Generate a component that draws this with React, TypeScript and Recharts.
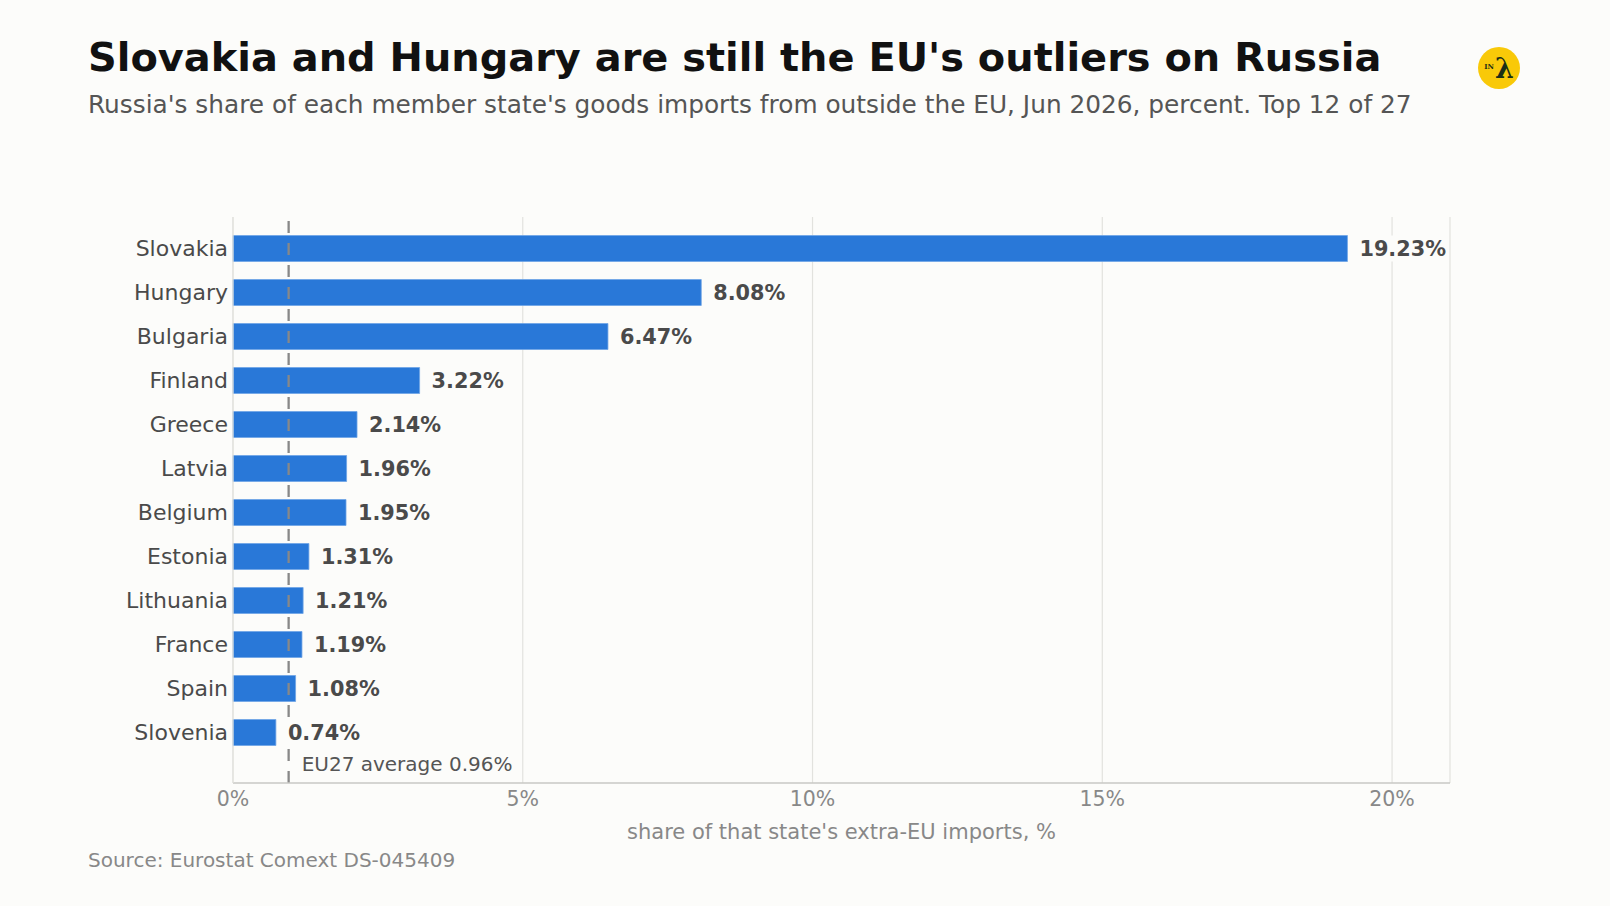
import React from 'react';
import { BarChart, Bar, XAxis, YAxis, CartesianGrid, ReferenceLine, LabelList } from 'recharts';

const countries = ['Slovakia', 'Hungary', 'Bulgaria', 'Finland', 'Greece', 'Latvia', 'Belgium', 'Estonia', 'Lithuania', 'France', 'Spain', 'Slovenia'];
const shares = [19.23, 8.08, 6.47, 3.22, 2.14, 1.96, 1.95, 1.31, 1.21, 1.19, 1.08, 0.74];
const xTicks = [0, 5, 10, 15, 20];
const euAverage = 0.96;

const BG = '#fcfcfa';
const FONT = '"DejaVu Sans", sans-serif';

const data = countries.map((name, i) => ({ name, value: shares[i] }));

// value label with a small background box so the grid line is hidden behind it
const ValueLabel = (props: any) => {
  const { x, y, width, height, value } = props;
  const text = `${Number(value).toFixed(2)}%`;
  const tx = x + width + 12;
  const cy = y + height / 2;
  const w = text.length * 13.6 + 6;
  return (
    <g>
      <rect x={tx - 3} y={cy - 13} width={w} height={26} fill={BG} />
      <text x={tx} y={cy} dy={7.6} fontSize={20.8} fontWeight="bold" fill="#4a4a4a" fontFamily={FONT}>
        {text}
      </text>
    </g>
  );
};

const AverageLabel = (props: any) => {
  const { viewBox } = props;
  return (
    <text x={viewBox.x + 13} y={viewBox.y + viewBox.height - 12} fontSize={20} fill="#555" fontFamily={FONT}>
      {`EU27 average ${euAverage.toFixed(2)}%`}
    </text>
  );
};

export default function App() {
  return (
    <div style={{ position: 'absolute', left: 0, top: 0, width: 1610, height: 906, background: BG, fontFamily: FONT, overflow: 'hidden' }}>
      <div style={{ position: 'absolute', left: 88, top: 38, fontSize: 39.9, lineHeight: '39.9px', fontWeight: 'bold', color: '#111', whiteSpace: 'nowrap' }}>
        Slovakia and Hungary are still the EU's outliers on Russia
      </div>
      <div style={{ position: 'absolute', left: 88, top: 93, fontSize: 24.8, lineHeight: '24.8px', color: '#555', whiteSpace: 'nowrap' }}>
        Russia's share of each member state's goods imports from outside the EU, Jun 2026, percent. Top 12 of 27
      </div>
      <div style={{ position: 'absolute', left: 1478, top: 47, width: 42, height: 42, borderRadius: '50%', background: '#f9c908', display: 'flex', alignItems: 'center', justifyContent: 'center', fontFamily: '"DejaVu Serif", serif', color: '#1b2e16', fontWeight: 'bold' }}>
        <span style={{ fontSize: 7, marginRight: 1, marginTop: -4 }}>IN</span>
        <span style={{ fontSize: 27, lineHeight: '27px' }}>λ</span>
      </div>

      <div style={{ position: 'absolute', left: 0, top: 0 }}>
        <BarChart
          width={1610}
          height={906}
          data={data}
          layout="vertical"
          margin={{ top: 217, right: 160, bottom: 63, left: 0 }}
        >
          <CartesianGrid horizontal={false} stroke="#e2e2de" strokeWidth={1.2} />
          <XAxis
            type="number"
            domain={[0, 21]}
            ticks={xTicks}
            tickFormatter={(v) => `${v}%`}
            axisLine={{ stroke: '#c8c8c4', strokeWidth: 1.4 }}
            tickLine={false}
            tick={{ fill: '#888', fontSize: 20.5, fontFamily: FONT }}
            height={60}
            label={{ value: "share of that state's extra-EU imports, %", position: 'insideBottom', offset: 4, fill: '#888', fontSize: 21, fontFamily: FONT }}
          />
          <YAxis
            type="category"
            dataKey="name"
            width={233}
            axisLine={{ stroke: '#e2e2de', strokeWidth: 1.2 }}
            tickLine={false}
            tickMargin={-1}
            padding={{ top: 9.5, bottom: 28.5 }}
            tick={{ fill: '#4a4a4a', fontSize: 22, fontFamily: FONT }}
          />
          <Bar dataKey="value" fill="#2978d8" stroke="#6fa5e6" strokeWidth={0.8} barSize={26} isAnimationActive={false}>
            <LabelList dataKey="value" content={ValueLabel} />
          </Bar>
          <ReferenceLine x={euAverage} stroke="#888" strokeWidth={2.3} strokeDasharray="12 10" label={AverageLabel} />
        </BarChart>
      </div>

      <div style={{ position: 'absolute', left: 88, top: 850, fontSize: 20, lineHeight: '20px', color: '#888', whiteSpace: 'nowrap' }}>
        Source: Eurostat Comext DS-045409
      </div>
    </div>
  );
}
